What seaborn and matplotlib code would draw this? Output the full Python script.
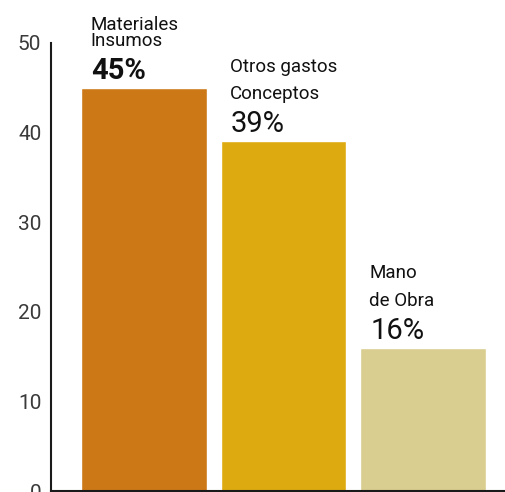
import matplotlib.pyplot as plt
import seaborn as sns
import pandas as pd

categorias = ['Materiales\nInsumos', 'Otros gastos\nConceptos', 'Mano\nde Obra']
porcentajes = [45, 39, 16]
etiquetas = ['45%', '39%', '16%']
colores = ['#CD7817', '#DDAA10', '#D9CD8F']

df = pd.DataFrame({'cat': categorias, 'pct': porcentajes})

sns.set_style('white')
plt.rcParams['font.family'] = ['Roboto', 'DejaVu Sans']

fig = plt.figure(figsize=(5.06, 4.92), dpi=100)
ax = fig.add_axes([0.1008, 0.002, 0.95, 0.911])
sns.barplot(data=df, x='cat', y='pct', hue='cat', palette=colores,
            width=0.9, saturation=1, legend=False, ax=ax)

ax.set_xlim(-0.667, 2.779)
ax.set_ylim(0, 50)
ax.set_yticks([0, 10, 20, 30, 40, 50])
ax.tick_params(axis='y', labelsize=15, colors='#3a3a3a', length=0, pad=7)
ax.set_xticks([])
ax.set_xlabel('')
ax.set_ylabel('')
for s in ['top', 'right']:
    ax.spines[s].set_visible(False)
for s in ['left', 'bottom']:
    ax.spines[s].set_color('#1a1a1a')
    ax.spines[s].set_linewidth(1.5)

# textos sobre cada barra
interlineado = [0.85, 1.65, 1.65]
for i, (cat, v, lab) in enumerate(zip(categorias, porcentajes, etiquetas)):
    x0 = i - 0.45
    ax.annotate(lab, (x0, v), xytext=(10, 9), textcoords='offset pixels',
                fontsize=21, fontweight='bold' if i == 0 else 'normal',
                ha='left', va='baseline', color='#111111')
    ax.annotate(cat, (x0, v), xytext=(9, 42), textcoords='offset pixels',
                fontsize=13.5, ha='left', va='baseline', color='#111111',
                linespacing=interlineado[i], annotation_clip=False)

fig.savefig('out.png', dpi=100)
